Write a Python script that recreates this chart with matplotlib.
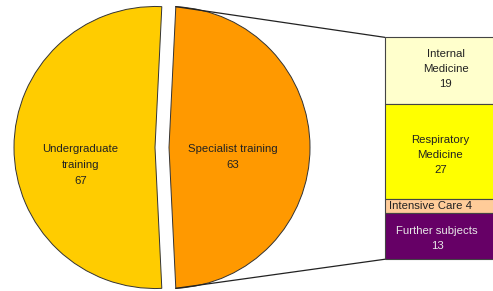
import numpy as np
import matplotlib
matplotlib.use('Agg')
import matplotlib.pyplot as plt

plt.rcParams['font.family'] = ['Liberation Sans', 'DejaVu Sans']

# Pie data
pie_labels = ['Undergraduate\ntraining', 'Specialist training']
pie_values = [67, 63]
pie_colors = ['#FFCC00', '#FF9900']

# Breakdown of specialist training
bar_labels = ['Internal\nMedicine', 'Respiratory\nMedicine', 'Intensive Care', 'Further subjects']
bar_values = [19, 27, 4, 13]
bar_colors = ['#FFFFCC', '#FFFF00', '#FFCC99', '#660066']
bar_text_colors = ['#222222', '#222222', '#222222', '#E8E8E8']

W, H = 493, 291
fig = plt.figure(figsize=(W / 100, H / 100), dpi=100)
ax = fig.add_axes([0, 0, 1, 1])

# pie layout (pixel units, y up)
cx, cy, r = 162, H - 147.5, 141
expl = 7
total = sum(pie_values)
start = 180 * pie_values[1] / total
wedges, _ = ax.pie(pie_values, colors=pie_colors, startangle=start, counterclock=True,
                   radius=r, center=(cx, cy), explode=[expl, expl],
                   wedgeprops=dict(edgecolor='#333333', linewidth=0.7), frame=True)
ax.set_xlim(0, W)
ax.set_ylim(0, H)
ax.set_aspect('auto')
ax.axis('off')

fs = 8.2
# pie labels
ax.text(80.5, H - 165, pie_labels[0] + '\n' + str(pie_values[0]), ha='center', va='center',
        fontsize=fs, color='#222222', linespacing=1.75)
ax.text(233, H - 156.5, pie_labels[1] + '\n' + str(pie_values[1]), ha='center', va='center',
        fontsize=fs, color='#222222', linespacing=1.75)

# stacked bar
bar_left, bar_right = 384.5, 510
bar_top, bar_bottom = H - 37.3, H - 259.3
scale = (bar_top - bar_bottom) / sum(bar_values)
tops = bar_top - np.concatenate([[0], np.cumsum(bar_values)[:-1]]) * scale
heights = np.array(bar_values) * scale
ax.bar([(bar_left + bar_right) / 2] * len(bar_values), heights, width=bar_right - bar_left,
       bottom=tops - heights, color=bar_colors, edgecolor='#444444', linewidth=0.8)

label_pos = [(445.5, H - 69), (440.5, H - 155), (389, H - 206), (437, H - 238.7)]
for i, (lab, v) in enumerate(zip(bar_labels, bar_values)):
    x, y = label_pos[i]
    if lab == 'Intensive Care':
        ax.text(x, y, f'{lab} {v}', ha='left', va='center', fontsize=fs,
                color=bar_text_colors[i])
    else:
        ax.text(x, y, f'{lab}\n{v}', ha='center', va='center', fontsize=fs,
                color=bar_text_colors[i], linespacing=1.65)

# connector lines from the specialist wedge to the bar
ocx = cx + expl
half = np.deg2rad(start)
x_top, y_top = ocx + r * np.cos(half), cy + r * np.sin(half)
x_bot, y_bot = ocx + r * np.cos(-half), cy + r * np.sin(-half)
ax.plot([x_top, bar_left], [y_top, bar_top], color='#222222', lw=0.9)
ax.plot([x_bot, bar_left], [y_bot, bar_bottom], color='#222222', lw=0.9)

fig.savefig('out.png', dpi=100)
